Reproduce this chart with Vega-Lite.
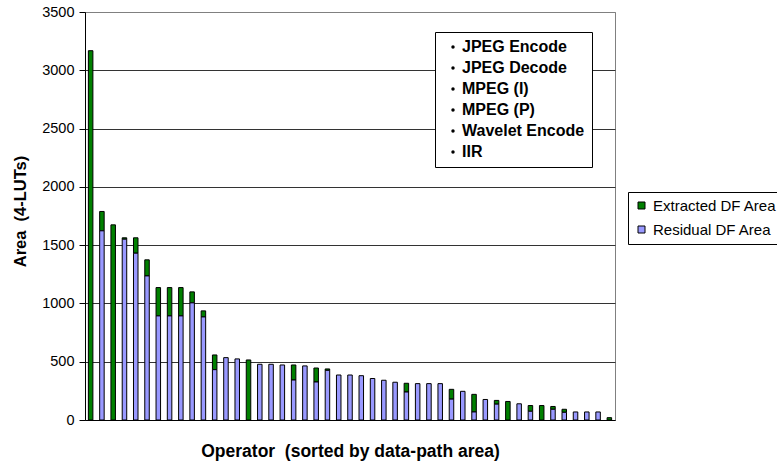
{
  "$schema": "https://vega.github.io/schema/vega-lite/v6.json",
  "width": 530,
  "height": 408,
  "autosize": {"type": "none"},
  "padding": {"left": 85, "top": 12, "right": 162, "bottom": 41},
  "background": "#ffffff",
  "config": {
    "font": "Liberation Sans",
    "view": {"fill": "#C0C0C0", "stroke": "#808080", "strokeWidth": 1},
    "axis": {
      "labelColor": "#000000",
      "titleColor": "#000000",
      "domainColor": "#000000",
      "tickColor": "#000000",
      "titleFontWeight": "bold"
    }
  },
  "layer": [
    {
      "data": {
        "values": [
          {"op": 1, "Residual DF Area": 0, "Extracted DF Area": 3168},
          {"op": 2, "Residual DF Area": 1623, "Extracted DF Area": 166},
          {"op": 3, "Residual DF Area": 0, "Extracted DF Area": 1674},
          {"op": 4, "Residual DF Area": 1551, "Extracted DF Area": 12},
          {"op": 5, "Residual DF Area": 1431, "Extracted DF Area": 132},
          {"op": 6, "Residual DF Area": 1236, "Extracted DF Area": 138},
          {"op": 7, "Residual DF Area": 893, "Extracted DF Area": 243},
          {"op": 8, "Residual DF Area": 893, "Extracted DF Area": 243},
          {"op": 9, "Residual DF Area": 893, "Extracted DF Area": 243},
          {"op": 10, "Residual DF Area": 1005, "Extracted DF Area": 94},
          {"op": 11, "Residual DF Area": 884, "Extracted DF Area": 52},
          {"op": 12, "Residual DF Area": 432, "Extracted DF Area": 126},
          {"op": 13, "Residual DF Area": 535, "Extracted DF Area": 0},
          {"op": 14, "Residual DF Area": 524, "Extracted DF Area": 0},
          {"op": 15, "Residual DF Area": 0, "Extracted DF Area": 515},
          {"op": 16, "Residual DF Area": 478, "Extracted DF Area": 0},
          {"op": 17, "Residual DF Area": 478, "Extracted DF Area": 0},
          {"op": 18, "Residual DF Area": 472, "Extracted DF Area": 0},
          {"op": 19, "Residual DF Area": 343, "Extracted DF Area": 129},
          {"op": 20, "Residual DF Area": 464, "Extracted DF Area": 0},
          {"op": 21, "Residual DF Area": 326, "Extracted DF Area": 120},
          {"op": 22, "Residual DF Area": 426, "Extracted DF Area": 12},
          {"op": 23, "Residual DF Area": 386, "Extracted DF Area": 0},
          {"op": 24, "Residual DF Area": 386, "Extracted DF Area": 0},
          {"op": 25, "Residual DF Area": 380, "Extracted DF Area": 0},
          {"op": 26, "Residual DF Area": 356, "Extracted DF Area": 0},
          {"op": 27, "Residual DF Area": 341, "Extracted DF Area": 0},
          {"op": 28, "Residual DF Area": 324, "Extracted DF Area": 0},
          {"op": 29, "Residual DF Area": 240, "Extracted DF Area": 75},
          {"op": 30, "Residual DF Area": 312, "Extracted DF Area": 0},
          {"op": 31, "Residual DF Area": 312, "Extracted DF Area": 0},
          {"op": 32, "Residual DF Area": 312, "Extracted DF Area": 0},
          {"op": 33, "Residual DF Area": 179, "Extracted DF Area": 84},
          {"op": 34, "Residual DF Area": 246, "Extracted DF Area": 0},
          {"op": 35, "Residual DF Area": 69, "Extracted DF Area": 151},
          {"op": 36, "Residual DF Area": 176, "Extracted DF Area": 0},
          {"op": 37, "Residual DF Area": 136, "Extracted DF Area": 32},
          {"op": 38, "Residual DF Area": 0, "Extracted DF Area": 159},
          {"op": 39, "Residual DF Area": 139, "Extracted DF Area": 0},
          {"op": 40, "Residual DF Area": 75, "Extracted DF Area": 49},
          {"op": 41, "Residual DF Area": 0, "Extracted DF Area": 124},
          {"op": 42, "Residual DF Area": 92, "Extracted DF Area": 24},
          {"op": 43, "Residual DF Area": 66, "Extracted DF Area": 26},
          {"op": 44, "Residual DF Area": 69, "Extracted DF Area": 0},
          {"op": 45, "Residual DF Area": 69, "Extracted DF Area": 0},
          {"op": 46, "Residual DF Area": 69, "Extracted DF Area": 0},
          {"op": 47, "Residual DF Area": 0, "Extracted DF Area": 20}
        ]
      },
      "transform": [
        {"fold": ["Extracted DF Area", "Residual DF Area"], "as": ["series", "area"]},
        {"filter": "datum.area > 0"}
      ],
      "mark": {"type": "bar", "stroke": "#000000", "strokeWidth": 1},
      "encoding": {
        "x": {
          "field": "op",
          "type": "ordinal",
          "scale": {"paddingInner": 0.6, "paddingOuter": 0.3},
          "axis": {
            "title": "Operator\u00a0 (sorted by data-path area)",
            "labels": false,
            "ticks": false,
            "titleFontSize": 17.5,
            "titleBaseline": "alphabetic",
            "titleY": 36
          }
        },
        "y": {
          "field": "area",
          "type": "quantitative",
          "stack": "zero",
          "scale": {"domain": [0, 3500], "nice": false},
          "axis": {
            "title": "Area\u00a0 (4-LUTs)",
            "values": [0, 500, 1000, 1500, 2000, 2500, 3000, 3500],
            "format": "d",
            "grid": true,
            "gridColor": {"condition": {"test": "datum.value === 3500", "value": "#808080"}, "value": "#333333"},
            "tickSize": 6,
            "labelPadding": 5,
            "labelFontSize": 14.5,
            "titleFontSize": 16.5,
            "titleBaseline": "alphabetic",
            "titleX": -60,
            "titleY": 199
          }
        },
        "color": {
          "field": "series",
          "type": "nominal",
          "scale": {"domain": ["Extracted DF Area", "Residual DF Area"], "range": ["#008000", "#9999FF"]},
          "legend": {
            "title": null,
            "orient": "none",
            "legendX": 543,
            "legendY": 180,
            "direction": "vertical",
            "fillColor": "#ffffff",
            "strokeColor": "#000000",
            "padding": 6,
            "symbolType": "square",
            "symbolSize": 49,
            "symbolStrokeColor": "#000000",
            "symbolStrokeWidth": 1,
            "labelFontSize": 15,
            "labelColor": "#000000",
            "labelOffset": 4,
            "rowPadding": 8,
            "labelLimit": 300
          }
        },
        "order": {"field": "series", "sort": "descending"}
      }
    },
    {
      "data": {
        "values": [
          {"benchmark": "JPEG Encode"},
          {"benchmark": "JPEG Decode"},
          {"benchmark": "MPEG (I)"},
          {"benchmark": "MPEG (P)"},
          {"benchmark": "Wavelet Encode"},
          {"benchmark": "IIR"}
        ]
      },
      "mark": {"type": "point", "filled": true, "color": "#000000", "opacity": 0},
      "encoding": {
        "shape": {
          "field": "benchmark",
          "type": "nominal",
          "sort": null,
          "scale": {"range": ["circle"]},
          "legend": {
            "title": null,
            "orient": "none",
            "legendX": 350,
            "legendY": 20,
            "direction": "vertical",
            "fillColor": "#ffffff",
            "strokeColor": "#000000",
            "padding": 7,
            "symbolType": "circle",
            "symbolSize": 12,
            "symbolOffset": 3,
            "symbolFillColor": "#000000",
            "symbolStrokeWidth": 0,
            "symbolOpacity": 1,
            "labelFontSize": 16,
            "labelFontWeight": "bold",
            "labelColor": "#000000",
            "labelOffset": 1,
            "rowPadding": 5,
            "labelLimit": 300
          }
        }
      }
    }
  ]
}
